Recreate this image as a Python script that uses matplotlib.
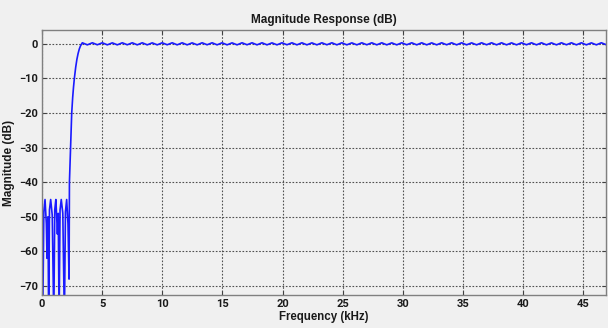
import numpy as np
import matplotlib.pyplot as plt
from matplotlib import font_manager

# Данные АЧХ
# полоса заграждения + переходная полоса, кГц / дБ
sb_freq = [0.00, 0.06, 0.15, 0.25, 0.36, 0.42, 0.50, 0.55, 0.62, 0.72, 0.85,
           0.98, 1.06, 1.15, 1.22, 1.28, 1.35, 1.42, 1.50, 1.60, 1.73, 1.86,
           1.95, 2.05, 2.16, 2.25, 2.27, 2.28, 2.33, 2.38, 2.43, 2.47, 2.55,
           2.62, 2.69, 2.80, 2.90, 3.00, 3.10, 3.20, 3.35]
sb_mag = [-46.0, -80.0, -48.5, -45.0, -52.0, -62.0, -50.0, -80.0, -48.0, -45.0,
          -49.5, -80.0, -48.0, -45.0, -50.0, -55.0, -49.0, -80.0, -48.0, -45.0,
          -49.0, -80.0, -48.5, -45.0, -52.0, -68.0, -45.0, -40.0, -34.5, -30.0,
          -24.5, -20.0, -15.5, -12.5, -10.0, -6.8, -4.5, -2.8, -1.5, -0.6, 0.3]

# полоса пропускания: пульсации ~ +/-0.3 дБ, период ~0.83 кГц
pb_freq = np.arange(3.77, 47.2, 0.415)
pb_mag = [-0.30, 0.30, -0.28, 0.30, -0.30, 0.28, -0.30, 0.30, -0.28, 0.30,
          -0.30, 0.30, -0.30, 0.28, -0.30, 0.30, -0.28, 0.30, -0.30, 0.30,
          -0.30, 0.28, -0.30, 0.30, -0.28, 0.30, -0.30, 0.30, -0.30, 0.28,
          -0.30, 0.30, -0.28, 0.30, -0.30, 0.30, -0.30, 0.28, -0.30, 0.30,
          -0.28, 0.30, -0.30, 0.30, -0.30, 0.28, -0.30, 0.30, -0.28, 0.30,
          -0.30, 0.30, -0.30, 0.28, -0.30, 0.30, -0.28, 0.30, -0.30, 0.30,
          -0.30, 0.28, -0.30, 0.30, -0.28, 0.30, -0.30, 0.30, -0.30, 0.28,
          -0.30, 0.30, -0.28, 0.30, -0.30, 0.30, -0.30, 0.28, -0.30, 0.30,
          -0.28, 0.30, -0.30, 0.30, -0.30, 0.28, -0.30, 0.30, -0.28, 0.30,
          -0.30, 0.30, -0.30, 0.28, -0.30, 0.30, -0.28, 0.30, -0.30, 0.30,
          -0.30, 0.28, -0.30, 0.30, -0.28]

x_ticks = [0, 5, 10, 15, 20, 25, 30, 35, 40, 45]
y_ticks = [0, -10, -20, -30, -40, -50, -60, -70]

n = min(len(pb_freq), len(pb_mag))
freq = np.concatenate([sb_freq, pb_freq[:n]])
mag = np.concatenate([sb_mag, pb_mag[:n]])

names = {f.name for f in font_manager.fontManager.ttflist}
narrow = 'Liberation Sans Narrow' if 'Liberation Sans Narrow' in names else 'Roboto'

bg = '#f0f0f0'
fig = plt.figure(figsize=(6.08, 3.28), dpi=100, facecolor=bg)
ax = fig.add_axes([0.0691, 0.1006, 0.9276, 0.808], facecolor=bg)

ax.plot(freq, mag, color='#1a1aff', linewidth=1.2)

ax.set_xlim(0, 46.9)
ax.set_ylim(-72.6, 4)
ax.set_xticks(x_ticks)
ax.set_yticks(y_ticks)
ax.grid(True, linestyle=(0, (1.5, 1.5)), color='#505050', linewidth=0.8)
ax.tick_params(direction='in', length=3, color='#404040', top=True, right=True,
               labelcolor='#1a1a1a', pad=3)
for lab in ax.get_xticklabels() + ax.get_yticklabels():
    lab.set_fontfamily(narrow)
    lab.set_fontweight('bold')
    lab.set_fontsize(8)
    lab.set_fontstretch('condensed')
for s in ax.spines.values():
    s.set_color('#808080')
    s.set_linewidth(1.0)

ax.set_title('Magnitude Response (dB)', fontsize=8.5, fontweight='bold',
             family='Liberation Sans', color='#1a1a1a', pad=5)
ax.set_xlabel('Frequency (kHz)', fontsize=8.3, fontweight='bold',
              family='Liberation Sans', color='#1a1a1a', labelpad=1)
ax.set_ylabel('Magnitude (dB)', fontsize=8.5, fontweight='bold',
              family='Liberation Sans', color='#1a1a1a', labelpad=3)

fig.savefig('out.png', dpi=100, facecolor=bg)
